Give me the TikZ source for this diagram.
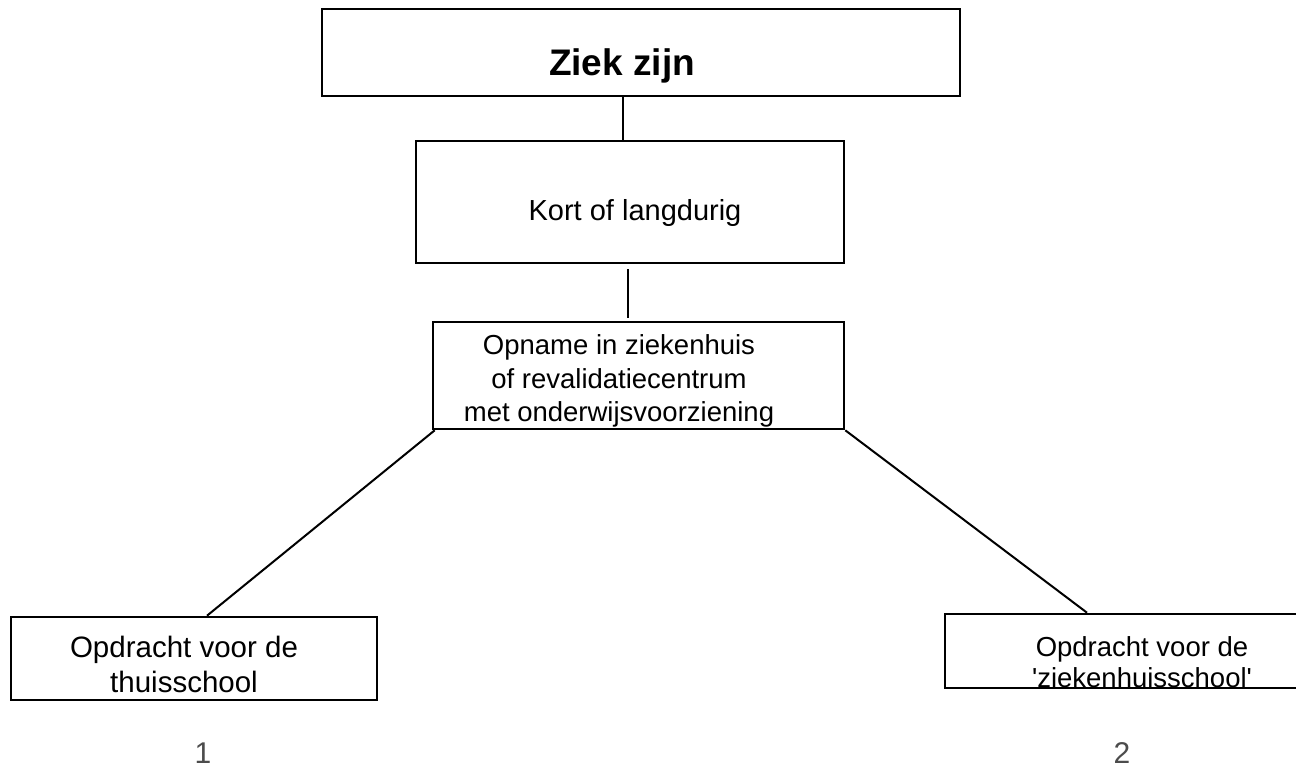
\documentclass[tikz,border=0pt]{standalone}
\usepackage{fontspec}
\setmainfont{Liberation Sans}
\usetikzlibrary{positioning}
\begin{document}
\begin{tikzpicture}[x = 1pt, y = -1pt,
    box/.style = {draw, line width=2.6pt, inner sep=0pt, fill=white},
    conn/.style = {line width=2pt},
    lbl/.style = {inner sep=0pt, align=center}]
    \useasboundingbox (0,0) rectangle (1296,768);
    \node[box, minimum width=638pt, minimum height=87pt] (ziek) at (641,52.5) {};
    \node[box, minimum width=428pt, minimum height=122pt] (kort) at (630,202) {};
    \node[box, minimum width=411pt, minimum height=107pt] (opname) at (638.5,375.5) {};
    \node[box, minimum width=366pt, minimum height=83pt] (thuis) at (194,658.5) {};
    \node[box, minimum width=355pt, minimum height=74pt] (zhs) at (1122.5,651) {};
    \node[lbl, anchor=base, font=\fontsize{37}{42}\selectfont\bfseries] (ziek-t) at (622,75) {Ziek zijn};
    \node[lbl, anchor=base, font=\fontsize{29}{34}\selectfont] (kort-t) at (635,220) {Kort of langdurig};
    \node[lbl, font=\fontsize{27.5}{33.5}\selectfont] (opname-t) at (619,381)
        {Opname in ziekenhuis\\of revalidatiecentrum\\met onderwijsvoorziening};
    \node[lbl, font=\fontsize{29.5}{35}\selectfont] (thuis-t) at (184,664) {Opdracht voor de\\thuisschool};
    \node[lbl, font=\fontsize{27.5}{31.5}\selectfont] (zhs-t) at (1142,662)
        {Opdracht voor de\\\textquotesingle ziekenhuisschool\textquotesingle};
    \node[lbl, anchor=base, text=black!70, font=\fontsize{30}{34}\selectfont] (een) at (203,763) {1};
    \node[lbl, anchor=base, text=black!70, font=\fontsize{30}{34}\selectfont] (twee) at (1122,763) {2};
    \draw[conn] ([xshift=-18pt]ziek.south) -- ([xshift=-7pt]kort.north);
    \draw[conn] ([xshift=-2pt, yshift=-5pt]kort.south) -- ([xshift=-10.5pt, yshift=3pt]opname.north);
    \draw[conn] ([xshift=3pt]opname.south west) -- ([xshift=13pt]thuis.north);
    \draw[conn] (opname.south east) -- ([xshift=-35.5pt]zhs.north);
\end{tikzpicture}
\end{document}
